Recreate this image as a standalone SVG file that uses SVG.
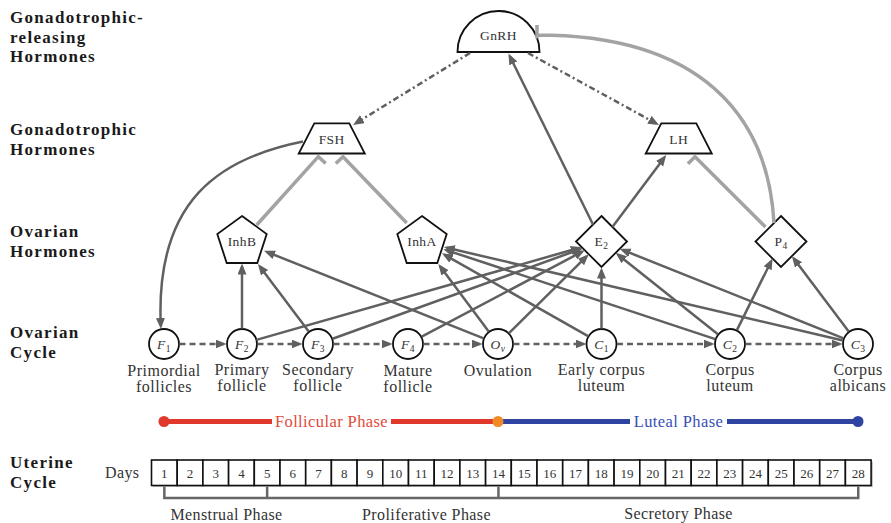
<svg xmlns="http://www.w3.org/2000/svg" width="891" height="523" viewBox="0 0 891 523">
<style>
.lbl{font-family:"Liberation Serif",serif;font-weight:bold;font-size:17px;letter-spacing:1.3px;fill:#1a1a1a}
.nd{fill:#fff;stroke:#111;stroke-width:1.8;stroke-linejoin:miter}
.nt{font-family:"Liberation Serif",serif;font-size:13.5px;fill:#333;text-anchor:middle;letter-spacing:0.4px}
.ni{font-style:italic}
.cl{font-family:"Liberation Serif",serif;font-size:16px;fill:#333;text-anchor:middle;letter-spacing:0.5px}
.a{stroke:#606060;stroke-width:2.5;fill:none;marker-end:url(#ah)}
.d{stroke-dasharray:6 4}
.dd{stroke-dasharray:6 3 2 3}
.inh{stroke:#a3a3a3;stroke-width:3.5;fill:none}
.day{fill:#fff;stroke:#111;stroke-width:1.6}
.dn{font-family:"Liberation Serif",serif;font-size:13px;fill:#333;text-anchor:middle}
.ph{font-family:"Liberation Serif",serif;font-size:16px;fill:#333;text-anchor:middle;letter-spacing:0.4px}
</style>
<defs>
<marker id="ah" markerUnits="userSpaceOnUse" markerWidth="12" markerHeight="10" refX="8" refY="4.5" orient="auto" viewBox="0 0 12 10">
<path d="M0,0 L11,4.5 L0,9 z" fill="#606060"/>
</marker>
</defs>

<g id="row-labels">
<text class="lbl" x="10" y="22.5">Gonadotrophic-</text>
<text class="lbl" x="10" y="42.5">releasing</text>
<text class="lbl" x="10" y="62">Hormones</text>
<text class="lbl" x="10" y="135">Gonadotrophic</text>
<text class="lbl" x="10" y="155">Hormones</text>
<text class="lbl" x="10" y="237">Ovarian</text>
<text class="lbl" x="10" y="257">Hormones</text>
<text class="lbl" x="10" y="338">Ovarian</text>
<text class="lbl" x="10" y="358">Cycle</text>
<text class="lbl" x="10" y="468">Uterine</text>
<text class="lbl" x="10" y="488">Cycle</text>
</g>

<g id="GnRH">
<path class="nd" d="M457.5,52 A41,41 0 0 1 539.5,52 Z"/>
<text class="nt" x="498.5" y="40">GnRH</text>
</g>
<g id="FSH">
<path class="nd" d="M314.3,123.3 L349.3,123.3 L364.8,153.5 L298.7,153.5 Z"/>
<text class="nt" x="331.7" y="143.5">FSH</text>
</g>
<g id="LH">
<path class="nd" d="M661.3,123.3 L696.3,123.3 L711.8,153.5 L645.7,153.5 Z"/>
<text class="nt" x="678.7" y="143.5">LH</text>
</g>
<g id="InhB">
<path class="nd" d="M242,216 L266.7,234 L257.3,263 L226.7,263 L217.3,234 Z"/>
<text class="nt" x="242" y="246">InhB</text>
</g>
<g id="InhA">
<path class="nd" d="M422,216 L446.7,234 L437.3,263 L406.7,263 L397.3,234 Z"/>
<text class="nt" x="422" y="246">InhA</text>
</g>
<g id="E2">
<path class="nd" d="M601.5,216 L627,241.5 L601.5,267 L576,241.5 Z"/>
<text class="nt" x="601.5" y="246">E<tspan font-size="9.5" dy="3">2</tspan></text>
</g>
<g id="P4">
<path class="nd" d="M781,216 L806.5,241.5 L781,267 L755.5,241.5 Z"/>
<text class="nt" x="781" y="246">P<tspan font-size="9.5" dy="3">4</tspan></text>
</g>

<g id="F1"><circle class="nd" cx="164" cy="344" r="15"/><text class="nt" x="164" y="348.5"><tspan class="ni">F</tspan><tspan font-size="9.5" dy="3">1</tspan></text>
<text class="cl" x="164" y="376">Primordial</text><text class="cl" x="164" y="391.5">follicles</text></g>
<g id="F2"><circle class="nd" cx="242" cy="344" r="15"/><text class="nt" x="242" y="348.5"><tspan class="ni">F</tspan><tspan font-size="9.5" dy="3">2</tspan></text>
<text class="cl" x="242" y="374.5">Primary</text><text class="cl" x="242" y="391">follicle</text></g>
<g id="F3"><circle class="nd" cx="318" cy="344" r="15"/><text class="nt" x="318" y="348.5"><tspan class="ni">F</tspan><tspan font-size="9.5" dy="3">3</tspan></text>
<text class="cl" x="318" y="374.5">Secondary</text><text class="cl" x="318" y="391">follicle</text></g>
<g id="F4"><circle class="nd" cx="408" cy="344" r="15"/><text class="nt" x="408" y="348.5"><tspan class="ni">F</tspan><tspan font-size="9.5" dy="3">4</tspan></text>
<text class="cl" x="408" y="376">Mature</text><text class="cl" x="408" y="391.5">follicle</text></g>
<g id="Ov"><circle class="nd" cx="498" cy="344" r="15"/><text class="nt" x="498" y="348.5"><tspan class="ni">O</tspan><tspan class="ni" font-size="9.5" dy="3">v</tspan></text>
<text class="cl" x="498" y="376">Ovulation</text></g>
<g id="C1"><circle class="nd" cx="601.5" cy="344" r="15"/><text class="nt" x="601.5" y="348.5"><tspan class="ni">C</tspan><tspan font-size="9.5" dy="3">1</tspan></text>
<text class="cl" x="601.5" y="375">Early corpus</text><text class="cl" x="601.5" y="391">luteum</text></g>
<g id="C2"><circle class="nd" cx="730" cy="344" r="15"/><text class="nt" x="730" y="348.5"><tspan class="ni">C</tspan><tspan font-size="9.5" dy="3">2</tspan></text>
<text class="cl" x="730" y="374.5">Corpus</text><text class="cl" x="730" y="391">luteum</text></g>
<g id="C3"><circle class="nd" cx="858" cy="344" r="15"/><text class="nt" x="858" y="348.5"><tspan class="ni">C</tspan><tspan font-size="9.5" dy="3">3</tspan></text>
<text class="cl" x="858" y="374.5">Corpus</text><text class="cl" x="858" y="391">albicans</text></g>

<g id="connectors">
<path class="inh" d="M256.7,225 L318.3,156.7 L325.7,163.4"/>
<path class="inh" d="M406.7,223 L343,156.7 L335.8,163.6"/>
<path class="inh" d="M765.5,227 L695,156.7 L687.9,163.8"/>
<path class="inh" d="M774,223 C768,115 700,35 537,35 M537,25 V38.5"/>
<path class="a dd" d="M470,53 L355.6,123.4"/>
<path class="a dd" d="M528,53 L656.4,123.6"/>
<path class="a" d="M303,141.5 C220,158 155,200 160.8,326"/>
<path class="a" d="M593,224.5 L509.8,56.2"/>
<path class="a" d="M612.4,226.9 L664.4,157.4"/>
<path class="a" d="M242,328.5 L242,266.5"/>
<path class="a" d="M308.7,331.6 L259.8,266.4"/>
<path class="a" d="M483.6,338.3 L266.8,251.9"/>
<path class="a" d="M488.7,331.6 L440.2,266.4"/>
<path class="a" d="M588.5,336.4 L444.6,254.8"/>
<path class="a" d="M715.3,339.1 L446.3,250.1"/>
<path class="a" d="M842.9,340.5 L446.9,247.8"/>
<path class="a" d="M256.4,339.9 L578.8,248"/>
<path class="a" d="M332.6,338.7 L580,249.3"/>
<path class="a" d="M421.7,336.7 L582.1,251.7"/>
<path class="a" d="M509,333.1 L586.6,256.3"/>
<path class="a" d="M601.5,328.5 L601.5,270.5"/>
<path class="a" d="M717.9,334.3 L618,254.7"/>
<path class="a" d="M843.6,338.3 L622.5,249.9"/>
<path class="a" d="M736.9,330.1 L771.2,261.2"/>
<path class="a" d="M848.7,331.6 L793.7,258.5"/>
<path class="a d" d="M179.5,344 L223.5,344"/>
<path class="a d" d="M257.5,344 L299.5,344"/>
<path class="a d" d="M333.5,344 L389.5,344"/>
<path class="a d" d="M423.5,344 L479.5,344"/>
<path class="a d" d="M513.5,344 L583.5,344"/>
<path class="a d" d="M617,344 L711.5,344"/>
<path class="a d" d="M745.5,344 L839.5,344"/>
</g>

<g id="phases">
<path d="M164,421.5 H272 M391,421.5 H498" stroke="#e0382a" stroke-width="5" fill="none"/>
<path d="M498,421.5 H630 M727,421.5 H858" stroke="#2f43a0" stroke-width="5" fill="none"/>
<circle cx="164" cy="421.5" r="5.5" fill="#e0382a"/>
<circle cx="498" cy="421.5" r="5.5" fill="#f08a24"/>
<circle cx="858" cy="421.5" r="5.5" fill="#2f43a0"/>
<text x="331.5" y="427" font-family="Liberation Serif, serif" font-size="16.5" fill="#e04a3a" text-anchor="middle" letter-spacing="0.4">Follicular Phase</text>
<text x="678.5" y="427" font-family="Liberation Serif, serif" font-size="16.5" fill="#3a4fb5" text-anchor="middle" letter-spacing="0.4">Luteal Phase</text>
</g>

<g id="days">
<text x="105" y="477.5" font-family="Liberation Serif, serif" font-size="16" fill="#333" letter-spacing="0.4">Days</text>
<rect x="153" y="461.5" width="720" height="25.5" fill="#c8c8c8"/>
<rect class="day" x="151.5" y="460" width="25.7" height="25.5"/><text class="dn" x="164.35" y="477.5">1</text>
<rect class="day" x="177.2" y="460" width="25.7" height="25.5"/><text class="dn" x="190.05" y="477.5">2</text>
<rect class="day" x="202.9" y="460" width="25.7" height="25.5"/><text class="dn" x="215.75" y="477.5">3</text>
<rect class="day" x="228.6" y="460" width="25.7" height="25.5"/><text class="dn" x="241.45" y="477.5">4</text>
<rect class="day" x="254.3" y="460" width="25.7" height="25.5"/><text class="dn" x="267.15" y="477.5">5</text>
<rect class="day" x="280" y="460" width="25.7" height="25.5"/><text class="dn" x="292.85" y="477.5">6</text>
<rect class="day" x="305.7" y="460" width="25.7" height="25.5"/><text class="dn" x="318.55" y="477.5">7</text>
<rect class="day" x="331.4" y="460" width="25.7" height="25.5"/><text class="dn" x="344.25" y="477.5">8</text>
<rect class="day" x="357.1" y="460" width="25.7" height="25.5"/><text class="dn" x="369.95" y="477.5">9</text>
<rect class="day" x="382.8" y="460" width="25.7" height="25.5"/><text class="dn" x="395.65" y="477.5">10</text>
<rect class="day" x="408.5" y="460" width="25.7" height="25.5"/><text class="dn" x="421.35" y="477.5">11</text>
<rect class="day" x="434.2" y="460" width="25.7" height="25.5"/><text class="dn" x="447.05" y="477.5">12</text>
<rect class="day" x="459.9" y="460" width="25.7" height="25.5"/><text class="dn" x="472.75" y="477.5">13</text>
<rect class="day" x="485.6" y="460" width="25.7" height="25.5"/><text class="dn" x="498.45" y="477.5">14</text>
<rect class="day" x="511.3" y="460" width="25.7" height="25.5"/><text class="dn" x="524.15" y="477.5">15</text>
<rect class="day" x="537" y="460" width="25.7" height="25.5"/><text class="dn" x="549.85" y="477.5">16</text>
<rect class="day" x="562.7" y="460" width="25.7" height="25.5"/><text class="dn" x="575.55" y="477.5">17</text>
<rect class="day" x="588.4" y="460" width="25.7" height="25.5"/><text class="dn" x="601.25" y="477.5">18</text>
<rect class="day" x="614.1" y="460" width="25.7" height="25.5"/><text class="dn" x="626.95" y="477.5">19</text>
<rect class="day" x="639.8" y="460" width="25.7" height="25.5"/><text class="dn" x="652.65" y="477.5">20</text>
<rect class="day" x="665.5" y="460" width="25.7" height="25.5"/><text class="dn" x="678.35" y="477.5">21</text>
<rect class="day" x="691.2" y="460" width="25.7" height="25.5"/><text class="dn" x="704.05" y="477.5">22</text>
<rect class="day" x="716.9" y="460" width="25.7" height="25.5"/><text class="dn" x="729.75" y="477.5">23</text>
<rect class="day" x="742.6" y="460" width="25.7" height="25.5"/><text class="dn" x="755.45" y="477.5">24</text>
<rect class="day" x="768.3" y="460" width="25.7" height="25.5"/><text class="dn" x="781.15" y="477.5">25</text>
<rect class="day" x="794" y="460" width="25.7" height="25.5"/><text class="dn" x="806.85" y="477.5">26</text>
<rect class="day" x="819.7" y="460" width="25.7" height="25.5"/><text class="dn" x="832.55" y="477.5">27</text>
<rect class="day" x="845.4" y="460" width="25.7" height="25.5"/><text class="dn" x="858.25" y="477.5">28</text>
<path d="M164.35,486.5 V498 H858.25 V486.5 M267.15,486.5 V498 M498.45,486.5 V498" stroke="#666" stroke-width="2.5" fill="none"/>
<text class="ph" x="226.5" y="520">Menstrual Phase</text>
<text class="ph" x="426.5" y="520">Proliferative Phase</text>
<text class="ph" x="678.5" y="518.5">Secretory Phase</text>
</g>
</svg>
